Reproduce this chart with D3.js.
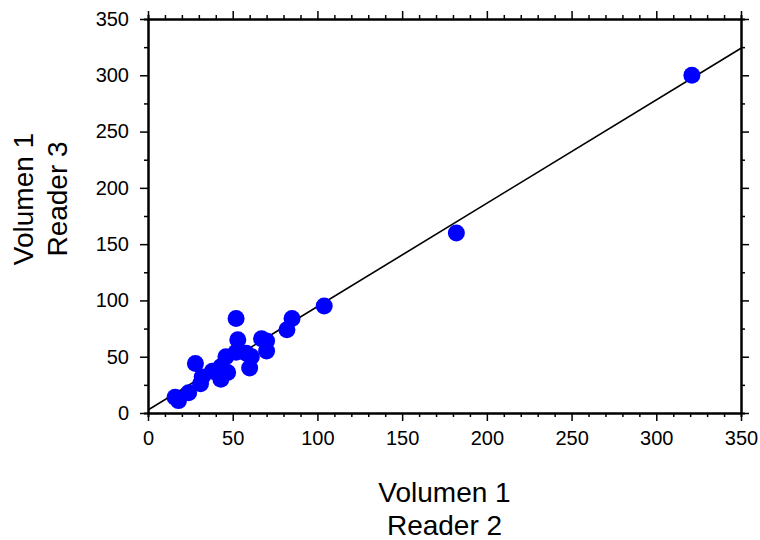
<!DOCTYPE html>
<html>
<head>
<meta charset="utf-8">
<script src="https://cdn.jsdelivr.net/npm/d3@7/dist/d3.min.js"></script>
<style>
  body { margin: 0; background: #fff; }
  text { font-family: Arial, "Liberation Sans", sans-serif; }
</style>
</head>
<body>
<svg id="chart" width="760" height="540"></svg>
<script>
// values
const reader2 = [16, 18, 24, 28, 31, 32, 38, 43, 47, 46, 43, 52, 53, 52, 58, 60, 61, 67, 70, 70, 82, 85, 104, 182, 321];
const reader3 = [14, 11, 18, 44, 26, 32, 37, 30, 36, 50, 41, 84, 65, 54, 53, 40, 50, 66, 64, 55, 74, 84, 95, 160, 300];
const fitIntercept = 2.7;
const fitSlope = 0.918;
const majorTicks = [0, 50, 100, 150, 200, 250, 300, 350];

const margin = {top: 19, right: 19, bottom: 127, left: 148};
const width = 760 - margin.left - margin.right;
const height = 540 - margin.top - margin.bottom;

const svg = d3.select('#chart');
const g = svg.append('g').attr('transform', 'translate(' + margin.left + ',' + margin.top + ')');

const x = d3.scaleLinear().domain([0, 350]).range([0, width]);
const y = d3.scaleLinear().domain([0, 350]).range([height, 0]);

const xMinor = d3.range(0, 351, 10).filter(v => v % 50 !== 0);
const yMinor = d3.range(25, 351, 50);

// minor ticks first, then major axes on top
function minor(axis, scale, vals) {
    return axis(scale).tickValues(vals).tickSize(4).tickFormat('');
}
g.append('g').attr('transform', 'translate(0,' + height + ')').call(minor(d3.axisBottom, x, xMinor));
g.append('g').call(minor(d3.axisTop, x, xMinor));
g.append('g').call(minor(d3.axisLeft, y, yMinor));
g.append('g').attr('transform', 'translate(' + width + ',0)').call(minor(d3.axisRight, y, yMinor));

g.append('g').attr('class', 'ax').attr('transform', 'translate(0,' + height + ')')
    .call(d3.axisBottom(x).tickValues(majorTicks).tickSize(8).tickPadding(10).tickSizeOuter(0));
g.append('g').attr('class', 'ax')
    .call(d3.axisTop(x).tickValues(majorTicks).tickSize(8).tickFormat('').tickSizeOuter(0));
g.append('g').attr('class', 'ax')
    .call(d3.axisLeft(y).tickValues(majorTicks).tickSize(8).tickPadding(11).tickSizeOuter(0));
g.append('g').attr('class', 'ax').attr('transform', 'translate(' + width + ',0)')
    .call(d3.axisRight(y).tickValues(majorTicks).tickSize(8).tickFormat('').tickSizeOuter(0));

svg.selectAll('.domain').attr('stroke', '#000').attr('stroke-width', 2);
svg.selectAll('.tick line').attr('stroke', '#000').attr('stroke-width', 1.5);
svg.selectAll('.tick text').attr('font-size', 20).attr('fill', '#000')
    .attr('font-family', 'Arial, "Liberation Sans", sans-serif');

// regression line
g.append('line')
    .attr('x1', x(0)).attr('y1', y(fitIntercept))
    .attr('x2', x(350)).attr('y2', y(fitIntercept + fitSlope * 350))
    .attr('stroke', '#000').attr('stroke-width', 1.6);

const pts = reader2.map((v, i) => ({x: v, y: reader3[i]}));
g.selectAll('circle.pt').data(pts).enter().append('circle')
    .attr('class', 'pt')
    .attr('cx', d => x(d.x))
    .attr('cy', d => y(d.y))
    .attr('r', 8.5)
    .attr('fill', '#0000ff');

// axis titles
const xt = svg.append('text').attr('text-anchor', 'middle').attr('font-size', 28).attr('fill', '#000');
xt.append('tspan').attr('x', margin.left + width / 2).attr('y', 502).text('Volumen 1');
xt.append('tspan').attr('x', margin.left + width / 2).attr('y', 535).text('Reader 2');

const yt = svg.append('text').attr('text-anchor', 'middle').attr('font-size', 28).attr('fill', '#000')
    .attr('transform', 'translate(0,199) rotate(-90)');
yt.append('tspan').attr('x', 0).attr('y', 33).text('Volumen 1');
yt.append('tspan').attr('x', 0).attr('y', 67).text('Reader 3');
</script>
</body>
</html>
